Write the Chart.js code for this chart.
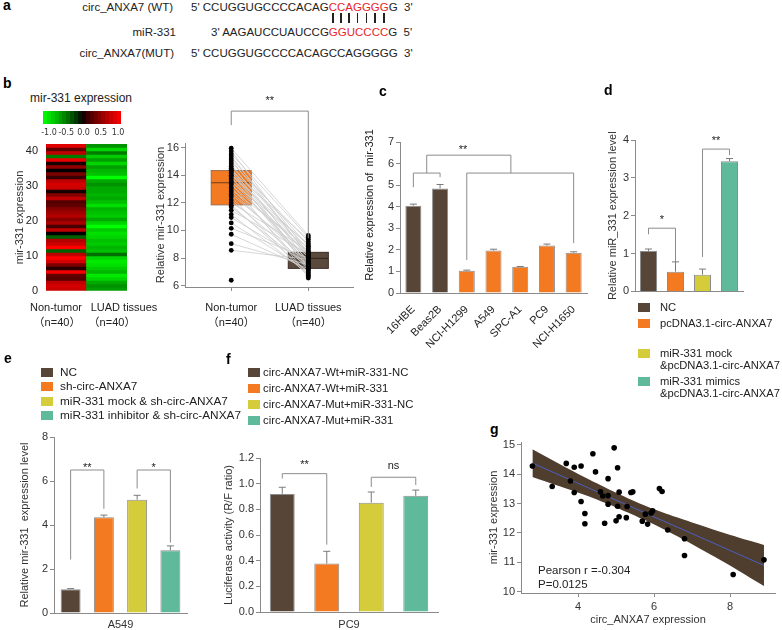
<!DOCTYPE html>
<html>
<head>
<meta charset="utf-8">
<title>circ_ANXA7 / miR-331</title>
<script src="https://cdn.jsdelivr.net/npm/chart.js@4.4.1/dist/chart.umd.min.js"></script>
<style>
  html, body { margin: 0; padding: 0; background: #fff; overflow: hidden; }
  #fig { position: relative; width: 782px; height: 630px; overflow: hidden;
         font-family: "Liberation Sans", Arial, "Noto Sans CJK SC", sans-serif; color: #222; }
  .t { position: absolute; white-space: nowrap; font-size: 11px; line-height: 14px; }
  .pre { white-space: pre; line-height: 12px; }
  .ctr { transform: translateX(-50%); }
  .panel { position: absolute; font-weight: bold; font-size: 14px; line-height: 16px; color: #000; }
  .wrap { position: absolute; }
  .seq { position: absolute; white-space: nowrap; font-size: 11.5px; line-height: 14px; }
  .red { color: #e8262a; }
  .sw { position: absolute; width: 12px; height: 9px; }
  .rot { position: absolute; white-space: pre; font-size: 11px; line-height: 13px;
         transform: translate(-50%, -50%) rotate(-90deg); }
  .pairbar { position: absolute; width: 1.6px; height: 10px; top: 13px; background: #222; }
  #cbar { position: absolute; left: 43px; top: 111px; width: 78px; height: 13px; }
  .cb { position: absolute; font-family: "DejaVu Sans", sans-serif; font-size: 8px; line-height: 10px;
        transform: translateX(-50%); top: 128px; color: #333; }
</style>
</head>
<body>
<div id="fig">
  <!-- a: binding site -->
  <div class="panel" style="left:3px;top:-3px">a</div>
  <div class="t" style="right:609px;top:0;font-size:11.5px">circ_ANXA7 (WT)</div>
  <div class="seq" style="left:191px;top:0">5' CCUGGUGCCCCACAG<span class="red" id="wtRed">CCAGGGG</span>G&nbsp; 3'</div>
  <div class="t" style="right:606px;top:25px;font-size:11.5px">miR-331</div>
  <div class="seq" style="left:211px;top:25px">3' AAGAUCCUAUCCG<span class="red">GGUCCCC</span>G&nbsp; 5'</div>
  <div class="t" style="right:608px;top:46px;font-size:11.5px">circ_ANXA7(MUT)</div>
  <div class="seq" style="left:191px;top:46px">5' CCUGGUGCCCCACAGCCAGGGGG&nbsp; 3'</div>

  <!-- b -->
  <div class="panel" style="left:3px;top:75px">b</div>
  <div class="t ctr" style="left:81px;top:91px;font-size:12px">mir-331 expression</div>
  <div id="cbar"></div>
  <div class="wrap" style="left:10px;top:135px;width:140px;height:198px"><canvas id="heat"></canvas></div>
  <div id="heatLabels"></div>
  <div class="wrap" style="left:145px;top:90px;width:215px;height:245px"><canvas id="pair"></canvas></div>

  <!-- c -->
  <div class="panel" style="left:379px;top:83px">c</div>
  <div class="rot" style="left:369px;top:205px">Relative expression of  mir-331</div>
  <div class="wrap" style="left:372px;top:95px;width:225px;height:265px"><canvas id="cells"></canvas></div>

  <!-- d -->
  <div class="panel" style="left:604px;top:82px">d</div>
  <div class="wrap" style="left:600px;top:90px;width:150px;height:210px"><canvas id="over"></canvas></div>
  <div id="legD"></div>

  <!-- e -->
  <div class="panel" style="left:4px;top:350px">e</div>
  <div id="legE"></div>
  <div class="wrap" style="left:0;top:420px;width:200px;height:220px"><canvas id="knock"></canvas></div>

  <!-- f -->
  <div class="panel" style="left:226px;top:351px">f</div>
  <div id="legF"></div>
  <div class="wrap" style="left:215px;top:445px;width:230px;height:195px"><canvas id="luc"></canvas></div>

  <!-- g -->
  <div class="panel" style="left:490px;top:421px">g</div>
  <div class="wrap" style="left:480px;top:425px;width:302px;height:210px"><canvas id="corr"></canvas></div>
  <div class="t" style="left:538px;top:563px;font-size:11.5px">Pearson r =-0.304</div>
  <div class="t" style="left:538px;top:577px;font-size:11.5px">P=0.0125</div>
</div>

<script>
// ---------- data ----------

// b: heatmap rows, listed from top to bottom
const heatNonTumor = [0.85, 0.3, 0.7, -0.4, 0.9, 0.05, 0.5, 0.0, 0.4, 0.15, 0.7, 0.8, 0.75, 0.05,
  0.45, 0.7, 0.25, 0.3, 0.45, 0.55, 0.65, 0.45, 0.6, 0.2, 0.7, 0.0, -0.3, 0.65, 0.75, 1.0,
  -0.3, 0.7, 1.0, 0.8, 0.4, 0.1, 0.95, 0.3, 0.25, 0.7, 0.8, 0.75];
const heatLuad = [-0.5, -0.8, -0.4, -0.75, -0.55, -0.8, -0.55, -0.65, -0.7, -1.0, -0.6, -0.5, -0.6,
  -0.6, -0.65, -0.6, -0.7, -0.85, -0.65, -0.7, -0.75, -0.6, -0.8, -1.0, -0.75, -0.85, -0.8,
  -0.7, -0.75, -0.65, -0.7, -0.35, -0.8, -0.9, -0.85, -0.75, -0.65, -0.9, -0.8, -0.6, -0.5, -0.55];
const heatGroups = ['Non-tumor', 'LUAD tissues'];
const heatTicks = [0, 10, 20, 30, 40];
const colorBarTicks = [-1.0, -0.5, 0.0, 0.5, 1.0];

// b: paired expression (same index = same patient)
const pairGroups = ['Non-tumor', 'LUAD tissues'];
const nonTumorExpr = [6.39, 8.56, 9.04, 9.72, 10.15, 10.54, 10.93, 11.15, 11.45, 11.7, 11.82, 12.0,
  12.2, 12.45, 12.6, 12.8, 12.95, 13.1, 13.3, 13.4, 13.5, 13.6, 13.75, 13.9, 14.0, 14.1, 14.2,
  14.3, 14.35, 14.4, 14.5, 14.65, 14.8, 14.95, 15.1, 15.25, 15.4, 15.55, 15.75, 15.95];
const luadExpr = [6.55, 7.9, 7.5, 7.2, 8.0, 7.05, 7.6, 6.85, 8.3, 7.35, 6.95, 8.55, 7.45, 6.65,
  8.1, 7.75, 8.75, 7.15, 8.4, 6.75, 9.05, 7.8, 8.2, 7.3, 8.95, 7.55, 8.45, 7.25, 9.35, 8.05,
  7.4, 8.65, 7.7, 9.2, 8.25, 8.85, 8.15, 9.5, 8.35, 9.63];
const boxQ1 = [11.85, 7.25];
const boxMedian = [13.45, 7.98];
const boxQ3 = [14.33, 8.41];
const pairTicks = [6, 8, 10, 12, 14, 16];

// c: cell lines
const cellLines = ['16HBE', 'Beas2B', 'NCI-H1299', 'A549', 'SPC-A1', 'PC9', 'NCI-H1650'];
const cellExpr = [4.05, 4.85, 1.03, 1.97, 1.22, 2.2, 1.87];
const cellErr = [0.07, 0.18, 0.03, 0.06, 0.01, 0.07, 0.04];
const cellTicks = [0, 1, 2, 3, 4, 5, 6, 7];

// d: overexpression
const dGroups = ['NC', 'pcDNA3.1-circ-ANXA7', 'miR-331 mock\n&pcDNA3.1-circ-ANXA7', 'miR-331 mimics\n&pcDNA3.1-circ-ANXA7'];
const dExpr = [1.07, 0.52, 0.44, 3.44];
const dErr = [0.05, 0.26, 0.15, 0.07];
const dTicks = [0, 1, 2, 3, 4];

// e: knockdown, A549
const eGroups = ['NC', 'sh-circ-ANXA7', 'miR-331 mock & sh-circ-ANXA7', 'miR-331 inhibitor & sh-circ-ANXA7'];
const eExpr = [1.08, 4.35, 5.15, 2.85];
const eErr = [0.03, 0.1, 0.2, 0.2];
const eTicks = [0, 2, 4, 6, 8];

// f: luciferase, PC9
const fGroups = ['circ-ANXA7-Wt+miR-331-NC', 'circ-ANXA7-Wt+miR-331', 'circ-ANXA7-Mut+miR-331-NC', 'circ-ANXA7-Mut+miR-331'];
const fLuc = [0.92, 0.377, 0.852, 0.905];
const fErr = [0.052, 0.096, 0.083, 0.045];
const fTicks = [0, 0.2, 0.4, 0.6, 0.8, 1.0, 1.2];

// g: correlation
const gCirc = [2.80, 3.32, 3.69, 3.80, 3.90, 3.90, 4.08, 4.08, 4.18, 4.18, 4.39, 4.46, 4.59, 4.65,
  4.70, 4.79, 4.79, 4.79, 4.95, 5.00, 5.04, 5.04, 5.08, 5.08, 5.27, 5.29, 5.39, 5.44, 5.69, 5.77,
  5.83, 5.92, 5.96, 6.14, 6.21, 6.36, 6.80, 6.80, 8.08, 8.89];
const gMir = [14.28, 13.58, 14.37, 13.77, 14.24, 13.38, 14.28, 13.07, 12.66, 12.31, 14.70, 14.08,
  13.40, 13.26, 12.33, 13.85, 13.27, 12.98, 14.90, 12.41, 14.22, 12.91, 13.39, 12.55, 12.52, 12.90,
  13.38, 13.40, 12.40, 12.64, 12.30, 12.68, 12.75, 13.51, 13.41, 12.10, 11.80, 11.23, 10.58, 11.08];
const fitX = [2.8, 8.89];
const fitY = [14.38, 10.89];
const bandX = [2.8, 3.5, 4.2, 5.0, 5.8, 6.6, 7.4, 8.2, 8.89];
const bandUpper = [14.85, 14.36, 13.88, 13.37, 12.91, 12.53, 12.18, 11.85, 11.59];
const bandLower = [13.91, 13.60, 13.28, 12.87, 12.41, 11.89, 11.32, 10.73, 10.19];
const gXTicks = [4, 6, 8];
const gYTicks = [10, 11, 12, 13, 14, 15];

// ---------- style ----------
const FONT = '"Liberation Sans", Arial, "Noto Sans CJK SC", sans-serif';
Chart.defaults.font.family = FONT;
Chart.defaults.font.size = 11;
Chart.defaults.color = '#333';
Chart.defaults.animation = false;
Chart.defaults.responsive = true;
Chart.defaults.maintainAspectRatio = false;
Chart.defaults.plugins.legend.display = false;
Chart.defaults.plugins.tooltip.enabled = false;

const colors = {
    brown: '#574537',
    orange: '#f47a22',
    yellow: '#d5cc3c',
    teal: '#5fba9b',
    axis: '#8a8a8a',
    band: '#4f3d2e',
    fit: '#4a5fc0'
};
const groupColors = [colors.brown, colors.orange, colors.yellow, colors.teal];

function heatColor(v) {
    const k = Math.round(255 * Math.pow(Math.min(1, Math.abs(v)), 0.8));
    return v < 0 ? 'rgb(0,' + k + ',0)' : 'rgb(' + k + ',0,0)';
}

// fixed axis sizes keep each plot area where the figure has it
function yAxis(min, max, ticks, width, title, titlePad, fmt) {
    return {
        min: min, max: max,
        afterBuildTicks: s => { s.ticks = ticks.map(v => ({ value: v })); },
        afterFit: s => { s.width = width; },
        border: { color: colors.axis },
        grid: { drawOnChartArea: false, tickLength: 4, color: colors.axis },
        ticks: { padding: 2, callback: fmt || (v => v) },
        title: title ? { display: true, text: title, padding: { top: titlePad, bottom: 0 } } : { display: false }
    };
}

function xPlain(height, title, titlePad) {
    return {
        afterFit: s => { s.height = height; },
        border: { color: colors.axis },
        grid: { display: false },
        ticks: { display: false },
        title: title ? { display: true, text: title, padding: { top: 0, bottom: titlePad } } : { display: false }
    };
}

// error bars (upper only) and significance brackets
const marksPlugin = {
    id: 'marks',
    afterDatasetsDraw(chart, args, opts) {
        const ctx = chart.ctx, x = chart.scales.x, y = chart.scales.y;
        ctx.save();
        ctx.lineWidth = 1;
        if (opts.errors) {
            const meta = chart.getDatasetMeta(0);
            const values = chart.data.datasets[0].data;
            ctx.strokeStyle = '#7a7a7a';
            opts.errors.forEach((err, i) => {
                const px = meta.data[i].x;
                const top = y.getPixelForValue(values[i]);
                const end = y.getPixelForValue(values[i] + err);
                ctx.beginPath();
                ctx.moveTo(px, top); ctx.lineTo(px, end);
                ctx.moveTo(px - 3.5, end); ctx.lineTo(px + 3.5, end);
                ctx.stroke();
            });
        }
        ctx.strokeStyle = '#8c8c8c';
        ctx.fillStyle = '#222';
        ctx.font = '11px ' + FONT;
        ctx.textAlign = 'center';
        ctx.textBaseline = 'alphabetic';
        (opts.brackets || []).forEach(b => {
            const x1 = x.getPixelForValue(b.x1), x2 = x.getPixelForValue(b.x2);
            const yt = y.getPixelForValue(b.top);
            ctx.beginPath();
            ctx.moveTo(x1, y.getPixelForValue(b.left));
            ctx.lineTo(x1, yt);
            ctx.lineTo(x2, yt);
            ctx.lineTo(x2, y.getPixelForValue(b.right));
            ctx.stroke();
            if (b.text) {
                const shift = b.text.indexOf('*') >= 0 ? 6.3 : 2.9;
                const tx = b.tx !== undefined ? x.getPixelForValue(b.tx) : (x1 + x2) / 2;
                ctx.fillText(b.text, tx, y.getPixelForValue(b.ty) + shift);
            }
        });
        ctx.restore();
    }
};

// quartile boxes for the paired plot
const boxPlugin = {
    id: 'boxes',
    beforeDatasetsDraw(chart, args, opts) {
        const ctx = chart.ctx, x = chart.scales.x, y = chart.scales.y;
        ctx.save();
        ctx.lineWidth = 1;
        opts.q1.forEach((q1, i) => {
            const xl = x.getPixelForValue(i - opts.half), xr = x.getPixelForValue(i + opts.half);
            const yt = y.getPixelForValue(opts.q3[i]), yb = y.getPixelForValue(q1);
            const ym = y.getPixelForValue(opts.median[i]);
            ctx.fillStyle = opts.fill[i];
            ctx.fillRect(xl, yt, xr - xl, yb - yt);
            ctx.strokeStyle = opts.stroke[i];
            ctx.strokeRect(xl, yt, xr - xl, yb - yt);
            ctx.strokeStyle = opts.medianColor[i];
            ctx.beginPath(); ctx.moveTo(xl, ym); ctx.lineTo(xr, ym); ctx.stroke();
        });
        ctx.restore();
    }
};

const fig = document.getElementById('fig');
function addText(host, cls, left, top, text) {
    const d = document.createElement('div');
    d.className = cls;
    d.style.left = left + 'px';
    d.style.top = top + 'px';
    d.textContent = text;
    host.appendChild(d);
    return d;
}

// ---------- a: pairing bars under the seed ----------
(function() {
    const origin = fig.getBoundingClientRect();
    const node = document.getElementById('wtRed').firstChild;
    for (let i = 0; i < node.length; i++) {
        const r = document.createRange();
        r.setStart(node, i); r.setEnd(node, i + 1);
        const box = r.getBoundingClientRect();
        const bar = document.createElement('div');
        bar.className = 'pairbar';
        bar.style.left = (box.left + box.width / 2 - 0.8 - origin.left) + 'px';
        fig.appendChild(bar);
    }
})();

// ---------- b: colour key and heatmap column labels ----------
(function() {
    const steps = 20, stops = [];
    for (let i = 0; i < steps; i++) {
        const v = -1 + (i + 0.5) * 2 / steps;
        stops.push(heatColor(v) + ' ' + (i * 100 / steps) + '%', heatColor(v) + ' ' + ((i + 1) * 100 / steps) + '%');
    }
    document.getElementById('cbar').style.background = 'linear-gradient(to right,' + stops.join(',') + ')';
    colorBarTicks.forEach(v => {
        addText(fig, 'cb', 49 + (v + 1) / 2 * 69, 128, v.toFixed(1));
    });
    const host = document.getElementById('heatLabels');
    [56, 124].forEach((cx, i) => {
        addText(host, 't ctr', cx, 300, heatGroups[i]);
        addText(host, 't ctr', i ? 112 : 57, 315, '（n=40）');
    });
})();

// ---------- legends ----------
function legend(id, labels, left, textLeft, rows, size) {
    const host = document.getElementById(id);
    labels.forEach((lab, i) => {
        const sw = document.createElement('div');
        sw.className = 'sw';
        sw.style.left = left + 'px';
        sw.style.top = (rows[i] - 4.5) + 'px';
        sw.style.background = groupColors[i];
        host.appendChild(sw);
        const two = lab.indexOf('\n') >= 0;
        const t = addText(host, 't' + (two ? ' pre' : ''), textLeft, rows[i] - (two ? 6 : 7), lab);
        t.style.fontSize = size + 'px';
    });
}
legend('legD', dGroups, 638, 660, [307, 323, 353, 381], 11.2);
legend('legE', eGroups, 41, 60, [372, 386, 401, 415], 11.8);
legend('legF', fGroups, 248, 263, [372, 388, 404, 420], 11.3);

// ---------- b: heatmap ----------
const nRows = heatNonTumor.length;
new Chart(document.getElementById('heat'), {
    type: 'bar',
    data: {
        labels: heatGroups,
        datasets: heatNonTumor.map((v, i) => {
            const r = nRows - 1 - i;
            return {
                data: [[r, r + 1.04], [r, r + 1.04]],
                backgroundColor: [heatColor(v), heatColor(heatLuad[i])],
                borderWidth: 0,
                grouped: false,
                barPercentage: 1,
                categoryPercentage: 1
            };
        })
    },
    options: {
        layout: { padding: { top: 9, right: 23 } },
        scales: {
            x: {
                afterFit: s => { s.height = 42; },
                grid: { display: false },
                border: { display: false },
                ticks: { display: false }
            },
            y: {
                min: 0, max: nRows,
                afterBuildTicks: s => { s.ticks = heatTicks.map(v => ({ value: v })); },
                afterFit: s => { s.width = 36; },
                grid: { drawOnChartArea: false, tickLength: 6, color: 'rgba(0,0,0,0)' },
                border: { display: false },
                ticks: { color: '#222', padding: 2 },
                title: { display: true, text: 'mir-331 expression', padding: { top: 3.4, bottom: 0 } }
            }
        }
    }
});

// ---------- b: paired box plot ----------
new Chart(document.getElementById('pair'), {
    type: 'scatter',
    data: {
        datasets: [
            // first (lowest) non-tumour point is an outlier with no drawn connection
            ...nonTumorExpr.slice(1).map((v, k) => ({
                type: 'line',
                data: [{ x: 0, y: v }, { x: 1, y: luadExpr[k + 1] }],
                borderColor: '#cdcdcd',
                borderWidth: 0.8,
                pointRadius: 0,
                order: 3
            })),
            { data: nonTumorExpr.map(v => ({ x: 0, y: v })), backgroundColor: '#000', borderWidth: 0, pointRadius: 2.4, order: 1 },
            { data: luadExpr.map(v => ({ x: 1, y: v })), backgroundColor: '#000', borderWidth: 0, pointRadius: 2.4, order: 1 }
        ]
    },
    options: {
        layout: { padding: { top: 53, right: 7 } },
        plugins: {
            boxes: {
                q1: boxQ1, median: boxMedian, q3: boxQ3, half: 0.26,
                fill: [colors.orange, '#5b4a3c'],
                stroke: ['#9a6a48', '#3a2e26'],
                medianColor: ['#6b3d1c', '#2a211b']
            },
            marks: { brackets: [{ x1: 0, x2: 1, top: 18.64, left: 17.63, right: 9.44, text: '**', ty: 19.59 }] }
        },
        scales: {
            x: {
                type: 'linear', min: -0.6, max: 1.58,
                afterBuildTicks: s => { s.ticks = [0, 1].map(v => ({ value: v })); },
                afterFit: s => { s.height = 48; },
                border: { color: colors.axis },
                grid: { drawOnChartArea: false, tickLength: 4, color: colors.axis },
                ticks: { color: '#222', padding: 9.5, maxRotation: 0, font: { lineHeight: 1.36 },
                         callback: v => [pairGroups[v], '（n=40）'] }
            },
            y: yAxis(5.9, 16.33, pairTicks, 40, 'Relative mir-331 expression', 9.4)
        }
    },
    plugins: [boxPlugin, marksPlugin]
});

// ---------- c: cell lines ----------
new Chart(document.getElementById('cells'), {
    type: 'bar',
    data: {
        labels: cellLines,
        datasets: [{
            data: cellExpr,
            backgroundColor: cellLines.map((c, i) => i < 2 ? colors.brown : colors.orange),
            borderColor: 'rgba(0,0,0,0.45)',
            borderWidth: 1,
            barPercentage: 0.6,
            categoryPercentage: 1
        }]
    },
    options: {
        layout: { padding: { top: 47, right: 10 } },
        plugins: {
            marks: {
                errors: cellErr,
                brackets: [
                    { x1: 0.5, x2: 3.65, top: 6.39, left: 5.56, right: 5.56, text: '**', ty: 6.76, tx: 1.86 },
                    { x1: 0, x2: 1, top: 5.56, left: 4.9, right: 5.37 },
                    { x1: 2, x2: 6, top: 5.56, left: 1.53, right: 2.31 }
                ]
            }
        },
        scales: {
            x: {
                afterFit: s => { s.height = 67; },
                border: { color: colors.axis },
                grid: { display: false },
                ticks: { color: '#222', minRotation: 45, maxRotation: 45, autoSkip: false, padding: 2 }
            },
            y: yAxis(0, 7, cellTicks, 28, null)
        }
    },
    plugins: [marksPlugin]
});

// ---------- d: overexpression ----------
new Chart(document.getElementById('over'), {
    type: 'bar',
    data: {
        labels: dGroups,
        datasets: [{
            data: dExpr,
            backgroundColor: groupColors,
            borderColor: 'rgba(0,0,0,0.45)',
            borderWidth: 1,
            barPercentage: 0.63,
            categoryPercentage: 1
        }]
    },
    options: {
        layout: { padding: { top: 50, right: 7 } },
        plugins: {
            marks: {
                errors: dErr,
                brackets: [
                    { x1: 0, x2: 1, top: 1.67, left: 1.51, right: 0.78, text: '*', ty: 1.98 },
                    { x1: 2, x2: 3, top: 3.76, left: 0.91, right: 3.6, text: '**', ty: 4.07 }
                ]
            }
        },
        scales: {
            x: xPlain(7),
            y: yAxis(0, 4, dTicks, 35, 'Relative miR_331 expression level', 6.4)
        }
    },
    plugins: [marksPlugin]
});

// ---------- e: knockdown ----------
new Chart(document.getElementById('knock'), {
    type: 'bar',
    data: {
        labels: eGroups,
        datasets: [{
            data: eExpr,
            backgroundColor: groupColors,
            borderColor: 'rgba(0,0,0,0.45)',
            borderWidth: 1,
            barPercentage: 0.6,
            categoryPercentage: 1
        }]
    },
    options: {
        layout: { padding: { top: 17, right: 13 } },
        plugins: {
            marks: {
                errors: eErr,
                brackets: [
                    { x1: 0, x2: 1, top: 6.5, left: 2.43, right: 4.74, text: '**', ty: 6.72 },
                    { x1: 2, x2: 3, top: 6.5, left: 5.66, right: 3.2, text: '*', ty: 6.74 }
                ]
            }
        },
        scales: {
            x: xPlain(27, 'A549', 8.4),
            y: yAxis(0, 8, eTicks, 54, 'Relative mir-331  expression level', 18.4)
        }
    },
    plugins: [marksPlugin]
});

// ---------- f: luciferase ----------
new Chart(document.getElementById('luc'), {
    type: 'bar',
    data: {
        labels: fGroups,
        datasets: [{
            data: fLuc,
            backgroundColor: groupColors,
            borderColor: 'rgba(0,0,0,0.45)',
            borderWidth: 1,
            barPercentage: 0.56,
            categoryPercentage: 1
        }]
    },
    options: {
        layout: { padding: { top: 13, right: 7 } },
        plugins: {
            marks: {
                errors: fErr,
                brackets: [
                    { x1: 0, x2: 1, top: 1.078, left: 1.04, right: 0.525, text: '**', ty: 1.17 },
                    { x1: 2, x2: 3, top: 1.05, left: 0.974, right: 0.99, text: 'ns', ty: 1.135 }
                ]
            }
        },
        scales: {
            x: xPlain(28, 'PC9', 8.4),
            y: yAxis(0, 1.2, fTicks, 45, 'Luciferase activity (R/F ratio)', 7.4, v => v.toFixed(1))
        }
    },
    plugins: [marksPlugin]
});

// ---------- g: correlation ----------
new Chart(document.getElementById('corr'), {
    type: 'scatter',
    data: {
        datasets: [
            { type: 'line', data: bandX.map((x, i) => ({ x: x, y: bandUpper[i] })), borderWidth: 0,
              pointRadius: 0, fill: '+1', backgroundColor: colors.band, tension: 0.3, order: 3 },
            { type: 'line', data: bandX.map((x, i) => ({ x: x, y: bandLower[i] })), borderWidth: 0,
              pointRadius: 0, fill: false, tension: 0.3, order: 3 },
            { type: 'line', data: fitX.map((x, i) => ({ x: x, y: fitY[i] })), borderColor: colors.fit,
              borderWidth: 1, pointRadius: 0, order: 2 },
            { data: gCirc.map((x, i) => ({ x: x, y: gMir[i] })), backgroundColor: '#000', borderWidth: 0,
              pointRadius: 2.8, order: 1 }
        ]
    },
    options: {
        layout: { padding: { top: 17, right: 7 } },
        scales: {
            x: {
                type: 'linear', min: 2.5, max: 9.18,
                afterBuildTicks: s => { s.ticks = gXTicks.map(v => ({ value: v })); },
                afterFit: s => { s.height = 42; },
                border: { color: colors.axis },
                grid: { drawOnChartArea: false, tickLength: 4, color: colors.axis },
                ticks: { padding: 3.4, maxRotation: 0 },
                title: { display: true, text: 'circ_ANXA7 expression', padding: { top: 0, bottom: 8.4 } }
            },
            y: yAxis(9.95, 15.1, gYTicks, 41, 'mir-331 expression', 7.4)
        }
    }
});
</script>
</body>
</html>
